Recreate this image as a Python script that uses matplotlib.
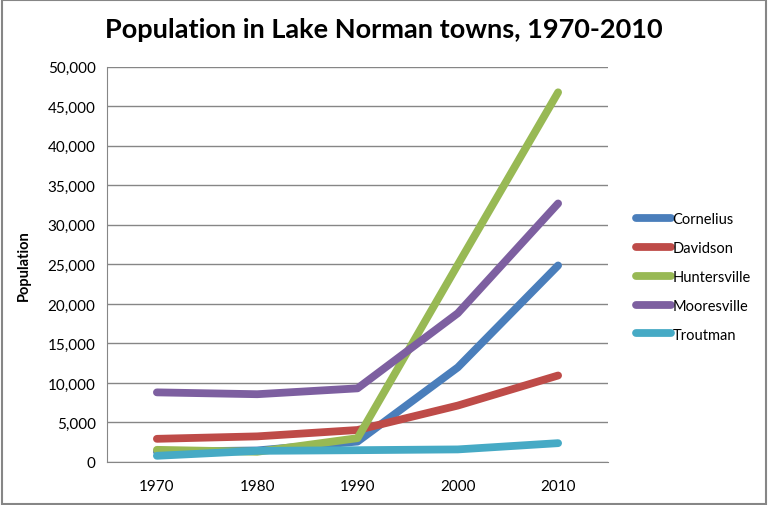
import matplotlib
matplotlib.use("Agg")
import matplotlib.pyplot as plt
from matplotlib.ticker import FuncFormatter, MultipleLocator
from matplotlib.patches import Rectangle

years = ["1970", "1980", "1990", "2000", "2010"]
cornelius = [1296, 1460, 2581, 11969, 24866]
davidson = [2931, 3241, 4046, 7139, 10944]
huntersville = [1538, 1294, 3014, 24960, 46773]
mooresville = [8808, 8575, 9317, 18823, 32711]
troutman = [784, 1409, 1493, 1592, 2383]

series = [
    ("Cornelius", cornelius, "#4a7ebb"),
    ("Davidson", davidson, "#be4b48"),
    ("Huntersville", huntersville, "#98b954"),
    ("Mooresville", mooresville, "#7d5fa0"),
    ("Troutman", troutman, "#46aac5"),
]

plt.rcParams['font.family'] = ['Lato', 'DejaVu Sans']

fig = plt.figure(figsize=(7.68, 5.06), dpi=100)
ax = fig.add_axes([0.139, 0.085, 0.653, 0.781])

x = list(range(len(years)))
for name, vals, col in series:
    ax.plot(x, vals, color=col, lw=5.6, label=name, solid_capstyle='round', solid_joinstyle='round')

ax.set_xlim(-0.5, 4.5)
ax.set_ylim(0, 50000)
ax.yaxis.set_major_locator(MultipleLocator(5000))
ax.yaxis.set_major_formatter(FuncFormatter(lambda v, p: f"{int(v):,}"))
ax.set_xticks(x)
ax.set_xticklabels(years)
ax.grid(axis='y', color='#868686', lw=1)
ax.set_axisbelow(True)
for s in ['top', 'right']:
    ax.spines[s].set_visible(False)
ax.spines['left'].set_color('#868686')
ax.spines['bottom'].set_color('#868686')
ax.tick_params(axis='both', length=0, labelsize=11, colors='black', pad=8)
ax.tick_params(axis='x', pad=12)
ax.set_ylabel("Population", fontsize=10.5, fontweight='bold', labelpad=12)

fig.suptitle("Population in Lake Norman towns, 1970-2010", fontsize=19.5, fontweight='bold', y=0.965)

leg = fig.legend(loc='center left', bbox_to_anchor=(0.828, 0.451), frameon=False, fontsize=10.5,
                 handlelength=2.4, handletextpad=0.1, labelspacing=1.02, borderaxespad=0, borderpad=0)

fig.patches.append(Rectangle((0.002, 0.002), 0.996, 0.996, transform=fig.transFigure,
                             fill=False, edgecolor='#868686', lw=1.5))

fig.savefig("out.png", dpi=100)
